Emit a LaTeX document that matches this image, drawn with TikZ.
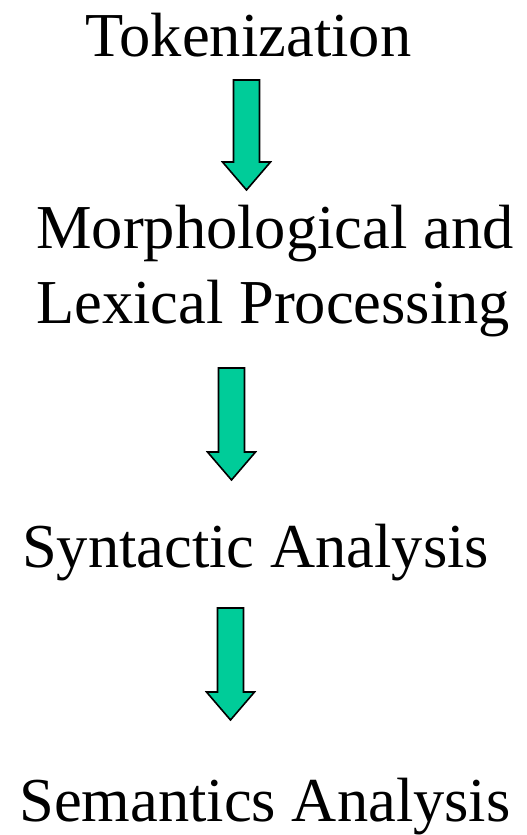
\documentclass[tikz,border=0pt]{standalone}
\usepackage{fontspec}
\setmainfont{Liberation Serif}
\usetikzlibrary{positioning}
\definecolor{arrowgreen}{HTML}{00CC99}
\tikzset{
 stage/.style={inner sep=0pt,anchor=base,font=\fontsize{62.5}{75}\selectfont},
 blockarrow/.style={fill=arrowgreen,draw=black,line width=1.6pt,line join=miter}
}
\begin{document}
\begin{tikzpicture}[x=1pt,y=-1pt]
\useasboundingbox (0,0) rectangle (527,835);
\node[stage] (tok) at (248.5,56) {Tokenization};
\node[stage,align=left,anchor=base west] (morph) at (36,323) {Morphological and\\Lexical Processing};
\node[stage] (synt) at (255.5,567) {Syntactic Analysis};
\node[stage] (sem) at (265,821) {Semantics Analysis};
% block arrows: centre x / top / tip
\foreach \x/\t/\b [count=\i] in {246.5/80/190,231.5/368/480,230.5/608/720} {
 \coordinate (top\i) at (\x,\t);\coordinate (tip\i) at (\x,\b);
 \draw[blockarrow] ([xshift=-13pt]top\i) -- ([xshift=13pt]top\i)
  -- ([xshift=13pt,yshift=28pt]tip\i) -- ([xshift=24pt,yshift=28pt]tip\i) -- (tip\i)
  -- ([xshift=-24pt,yshift=28pt]tip\i) -- ([xshift=-13pt,yshift=28pt]tip\i) -- cycle;
}
\end{tikzpicture}
\end{document}
